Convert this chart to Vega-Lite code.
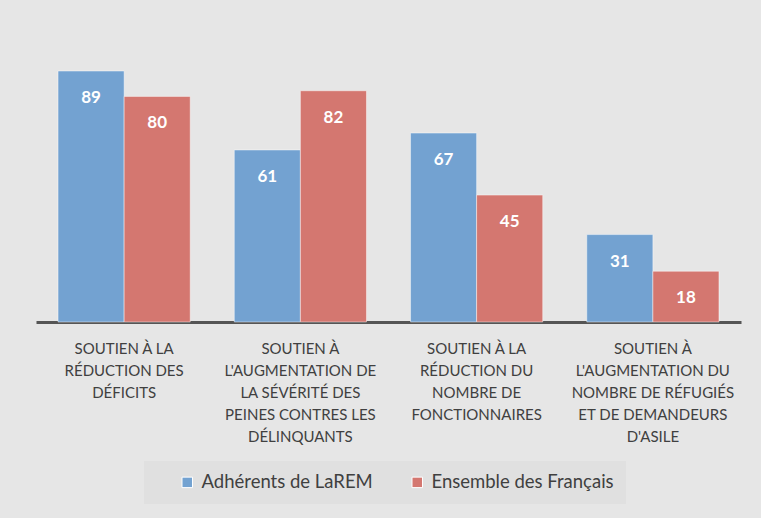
{
  "$schema": "https://vega.github.io/schema/vega-lite/v6.json",
  "width": 705,
  "height": 282,
  "autosize": {"type": "none"},
  "padding": {"left": 36, "top": 40, "right": 20, "bottom": 196},
  "background": "#e6e6e6",
  "config": {
    "view": {"stroke": null},
    "font": "Lato"
  },
  "data": {
    "values": [
      {"cat": "SOUTIEN À LA|RÉDUCTION DES|DÉFICITS", "ord": 1, "serie": "Adhérents de LaREM", "val": 89},
      {"cat": "SOUTIEN À LA|RÉDUCTION DES|DÉFICITS", "ord": 1, "serie": "Ensemble des Français", "val": 80},
      {"cat": "SOUTIEN À|L'AUGMENTATION DE|LA SÉVÉRITÉ DES|PEINES CONTRES LES|DÉLINQUANTS", "ord": 2, "serie": "Adhérents de LaREM", "val": 61},
      {"cat": "SOUTIEN À|L'AUGMENTATION DE|LA SÉVÉRITÉ DES|PEINES CONTRES LES|DÉLINQUANTS", "ord": 2, "serie": "Ensemble des Français", "val": 82},
      {"cat": "SOUTIEN À LA|RÉDUCTION DU|NOMBRE DE|FONCTIONNAIRES", "ord": 3, "serie": "Adhérents de LaREM", "val": 67},
      {"cat": "SOUTIEN À LA|RÉDUCTION DU|NOMBRE DE|FONCTIONNAIRES", "ord": 3, "serie": "Ensemble des Français", "val": 45},
      {"cat": "SOUTIEN À|L'AUGMENTATION DU|NOMBRE DE RÉFUGIÉS|ET DE DEMANDEURS|D'ASILE", "ord": 4, "serie": "Adhérents de LaREM", "val": 31},
      {"cat": "SOUTIEN À|L'AUGMENTATION DU|NOMBRE DE RÉFUGIÉS|ET DE DEMANDEURS|D'ASILE", "ord": 4, "serie": "Ensemble des Français", "val": 18}
    ]
  },
  "encoding": {
    "x": {
      "field": "cat",
      "type": "nominal",
      "sort": {"field": "ord"},
      "scale": {"paddingInner": 0.25, "paddingOuter": 0.125},
      "axis": {
        "title": null,
        "labelAngle": 0,
        "labelExpr": "split(datum.label, '|')",
        "labelFontSize": 15,
        "labelColor": "#404040",
        "labelLineHeight": 22,
        "labelPadding": 19,
        "labelLimit": 200,
        "ticks": false,
        "domainColor": "#555555",
        "domainWidth": 3
      }
    },
    "xOffset": {"field": "serie", "type": "nominal"},
    "y": {
      "field": "val",
      "type": "quantitative",
      "scale": {"domain": [0, 100]},
      "axis": null
    }
  },
  "layer": [
    {
      "mark": {"type": "bar", "stroke": "#ffffff", "strokeOpacity": 0.45, "strokeWidth": 1},
      "encoding": {
        "color": {
          "field": "serie",
          "type": "nominal",
          "scale": {"range": ["#73a2d1", "#d47770"]},
          "legend": {
            "title": null,
            "orient": "none",
            "direction": "horizontal",
            "legendX": 108,
            "legendY": 421,
            "fillColor": "#e0e0e0",
            "padding": 12,
            "symbolType": "square",
            "symbolSize": 110,
            "symbolStrokeColor": "#ffffff",
            "symbolStrokeWidth": 1,
            "symbolOffset": 22,
            "labelFontSize": 18.5,
            "labelLimit": 400,
            "labelColor": "#404040",
            "labelOffset": 5,
            "columnPadding": 13
          }
        }
      }
    },
    {
      "mark": {"type": "text", "color": "white", "fontWeight": "bold", "fontSize": 17, "baseline": "middle", "dy": 27},
      "encoding": {
        "text": {"field": "val", "type": "quantitative"}
      }
    }
  ]
}
